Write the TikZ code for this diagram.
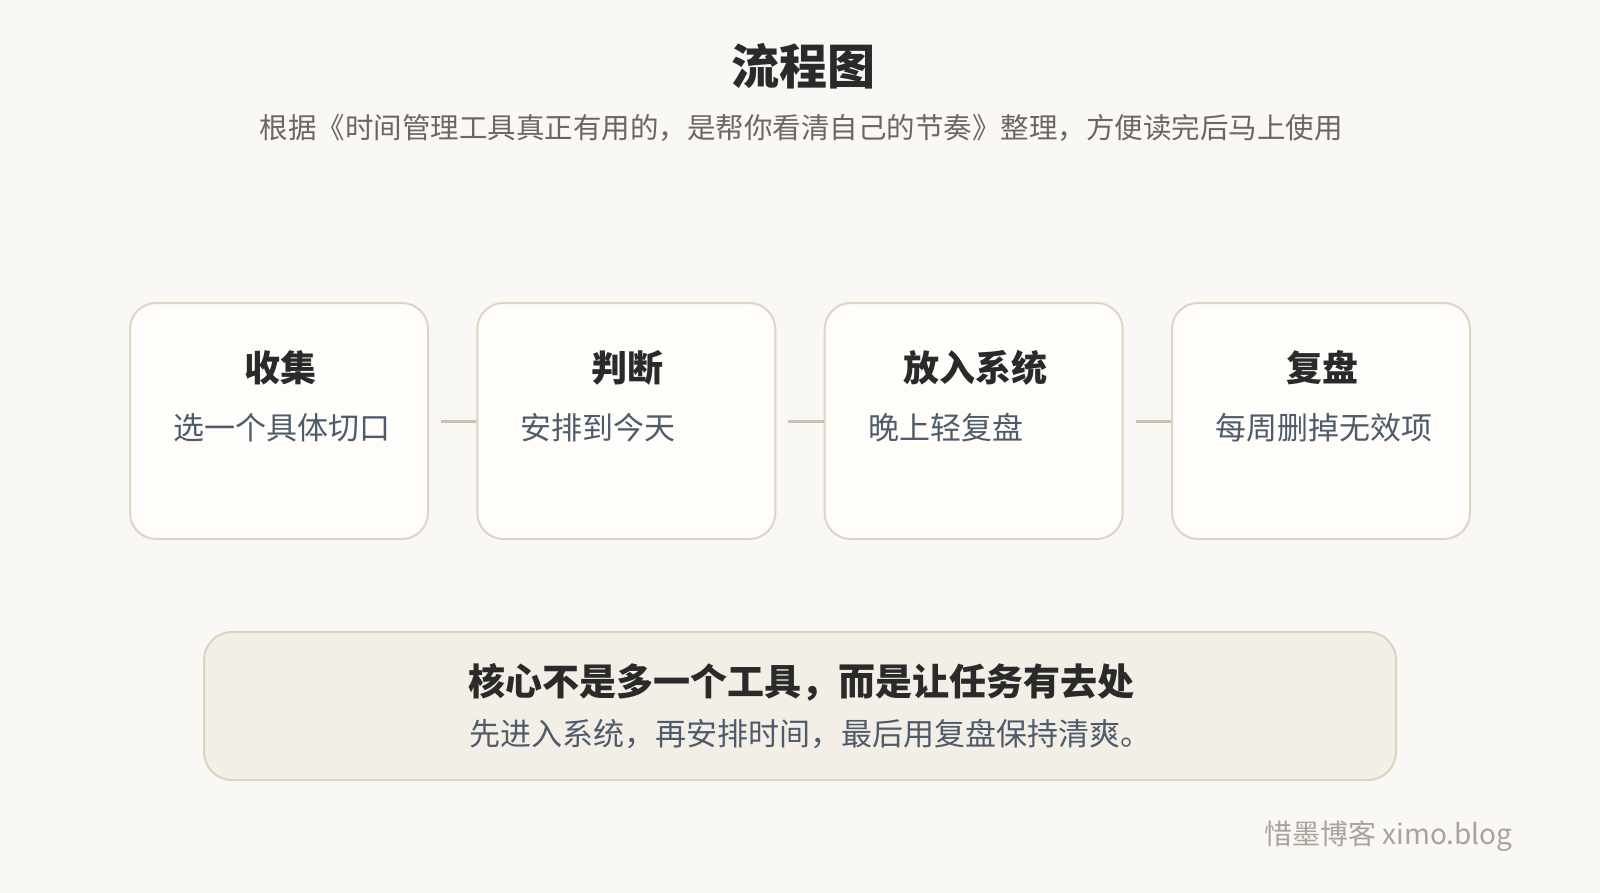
\documentclass[tikz,border=0pt]{standalone}
\usepackage{fontspec}
\setmainfont{Noto Sans CJK SC}
\definecolor{bg}{HTML}{F9F8F4}
\definecolor{boxfill}{HTML}{FEFDF9}
\definecolor{boxline}{HTML}{DED5C4}
\definecolor{notefill}{HTML}{F3EFE7}
\definecolor{noteline}{HTML}{DDD3C0}
\definecolor{conncol}{HTML}{CDBFAE}
\definecolor{titlecol}{HTML}{2A2A2A}
\definecolor{subcol}{HTML}{6B665F}
\definecolor{desccol}{HTML}{4F5B6B}
\definecolor{markcol}{HTML}{A9A49A}
\tikzset{
  stepbox/.style={draw=boxline, fill=boxfill, line width=1pt, rounded corners=13pt,
    minimum width=149pt, minimum height=118pt, inner sep=0pt},
  stepname/.style={inner sep=0pt, text=titlecol, font=\fontsize{18pt}{18pt}\selectfont\bfseries},
  stepdesc/.style={inner sep=0pt, anchor=west, text=desccol, font=\fontsize{15.5pt}{15.5pt}\selectfont},
  conn/.style={draw=conncol, line width=1.5pt, shorten <=6pt},
}
\begin{document}
\begin{tikzpicture}[x=0.5pt,y=-0.5pt]
\path[fill=bg] (0,0) rectangle (1600,893);
\useasboundingbox (0,0) rectangle (1600,893);

\node[inner sep=0pt, text=titlecol, font=\fontsize{24pt}{24pt}\selectfont\bfseries] (title) at (803,66) {流程图};
\node[inner sep=0pt, text=subcol, font=\fontsize{14.25pt}{14.25pt}\selectfont] (subtitle) at (801,128) {根据《时间管理工具真正有用的，是帮你看清自己的节奏》整理，方便读完后马上使用};

\node[stepbox] (b1) at (279,421) {};
\node[stepbox] (b2) at (626.33,421) {};
\node[stepbox] (b3) at (973.67,421) {};
\node[stepbox] (b4) at (1321,421) {};

\draw[conn] (b1) -- (b2);
\draw[conn] (b2) -- (b3);
\draw[conn] (b3) -- (b4);

\node[stepname] (t1) at (280.5,368) {收集};
\node[stepname] (t2) at (627.8,368) {判断};
\node[stepname] (t3) at (975.2,368) {放入系统};
\node[stepname] (t4) at (1322.5,368) {复盘};

\node[stepdesc] (d1) at (173,427.5) {选一个具体切口};
\node[stepdesc] (d2) at (520.33,427.5) {安排到今天};
\node[stepdesc] (d3) at (867.67,427.5) {晚上轻复盘};
\node[stepdesc] (d4) at (1215,427.5) {每周删掉无效项};

\node[draw=noteline, fill=notefill, line width=1pt, rounded corners=14pt,
  minimum width=596pt, minimum height=74pt, inner sep=0pt] (note) at (800,706) {};
\node[inner sep=0pt, text=titlecol, font=\fontsize{18.5pt}{18.5pt}\selectfont\bfseries] (notetitle) at (801,682) {核心不是多一个工具，而是让任务有去处};
\node[inner sep=0pt, text=desccol, font=\fontsize{15.5pt}{15.5pt}\selectfont] (notedesc) at (810,734) {先进入系统，再安排时间，最后用复盘保持清爽。};

\node[inner sep=0pt, anchor=east, text=markcol, font=\fontsize{14pt}{14pt}\selectfont] (mark) at (1513,836) {惜墨博客 ximo.blog};
\end{tikzpicture}
\end{document}
